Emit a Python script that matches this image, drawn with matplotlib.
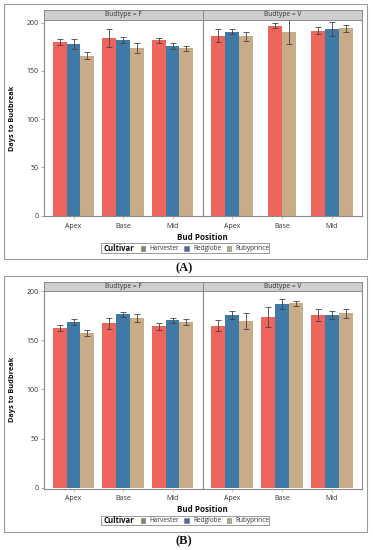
import numpy as np
import matplotlib
matplotlib.use("Agg")
import matplotlib.pyplot as plt
from matplotlib.patches import Rectangle

# ---------------- data ----------------
positions = ["Apex", "Base", "Mid"]
cultivars = ["Harvester", "Redglobe", "Rubyprince"]
budtypes = ["F", "V"]

# Panel A  (rows = cultivar, cols = bud position)
A_F_mean = [[180, 184, 182], [178, 182, 176], [166, 174, 173.5]]
A_F_err = [[3, 9, 2.6], [5, 3.5, 3], [3.5, 5, 2.6]]
A_V_mean = [[186.5, 197, 191.5], [190.7, np.nan, 193.5], [186, 190, 194.3]]
A_V_err = [[6.5, 2.5, 3.7], [2.6, np.nan, 7.6], [4.7, 12.6, 3.8]]

# Panel B
B_F_mean = [[162.7, 167.2, 164.2], [168.2, 176.3, 170.5], [157.2, 172.5, 168.5]]
B_F_err = [[3.4, 6, 3.3], [3, 2.4, 2.5], [2.8, 4.2, 2.7]]
B_V_mean = [[164.7, 173.6, 175.6], [175.6, 186.7, 175.9], [169.8, 187.6, 177.3]]
B_V_err = [[5.5, 10.5, 6], [4.3, 5.3, 4.3], [7.9, 2.7, 4.2]]

bar_colors = ["#ee655e", "#3f7aa6", "#c8ac88"]
legend_colors = ["#8e7f60", "#55679f", "#b9b07f"]

# ---------------- layout ----------------
W, H = 373, 550
fig = plt.figure(figsize=(W / 100, H / 100), dpi=100)
plt.rcParams["font.family"] = ["Open Sans", "DejaVu Sans"]


def rect(x0, y0, x1, y1):
    return [x0 / W, 1 - y1 / H, (x1 - x0) / W, (y1 - y0) / H]


GRAY = "#8a8a8a"
TXT = "#333333"

panels = [
    dict(label="(A)", outer=(4, 4, 367, 259), strip=(10, 19.5), bottom=216.5,
         ylim=(-0.8, 203.3), xlab_y=237, leg=(101, 243.5, 269, 253), tag_y=268,
         data=[(A_F_mean, A_F_err), (A_V_mean, A_V_err)]),
    dict(label="(B)", outer=(4, 276, 367, 531.5), strip=(282, 290.7), bottom=488.5,
         ylim=(-0.8, 200.5), xlab_y=509, leg=(101, 515.5, 269, 525), tag_y=541,
         data=[(B_F_mean, B_F_err), (B_V_mean, B_V_err)]),
]

facet_x = [(44.3, 202.7), (202.7, 362)]
bw = 0.28

for p in panels:
    ox0, oy0, ox1, oy1 = p["outer"]
    fig.patches.append(Rectangle((ox0 / W, 1 - oy1 / H), (ox1 - ox0) / W, (oy1 - oy0) / H,
                                 transform=fig.transFigure, fill=False,
                                 edgecolor="#9a9a9a", linewidth=0.8))
    s0, s1 = p["strip"]
    for fi, (bt, (means, errs)) in enumerate(zip(budtypes, p["data"])):
        x0, x1 = facet_x[fi]
        ax = fig.add_axes(rect(x0, s1, x1, p["bottom"]))
        for g, pos in enumerate(positions):
            present = [c for c in range(3) if not np.isnan(means[c][g])]
            n = len(present)
            for k, c in enumerate(present):
                xc = g + (k - (n - 1) / 2) * bw
                ax.bar(xc, means[c][g], width=bw, color=bar_colors[c], linewidth=0)
                ax.errorbar(xc, means[c][g], yerr=errs[c][g], fmt="none",
                            ecolor="#4a4040", elinewidth=0.6, capsize=2.2, capthick=0.6)
        ax.set_xlim(-0.59, 2.61)
        ax.set_ylim(*p["ylim"])
        ax.set_xticks(range(3))
        ax.set_xticklabels(positions)
        ax.tick_params(axis="x", length=2.2, width=0.5, color="#7fc8c8", pad=2.5,
                       labelsize=5, labelcolor=TXT)
        if fi == 0:
            ax.set_yticks([0, 50, 100, 150, 200])
            ax.tick_params(axis="y", length=2, width=0.5, color=GRAY, pad=2,
                           labelsize=5, labelcolor=TXT)
        else:
            ax.set_yticks([])
        for sp in ax.spines.values():
            sp.set_color(GRAY)
            sp.set_linewidth(0.8)
        ax.spines["top"].set_visible(False)
        # strip
        sax = fig.add_axes(rect(x0, s0, x1, s1))
        sax.set_facecolor("#cfcfcf")
        sax.set_xticks([])
        sax.set_yticks([])
        for sp in sax.spines.values():
            sp.set_color(GRAY)
            sp.set_linewidth(0.7)
        sax.text(0.5, 0.5, f"Budtype = {bt}", ha="center", va="center",
                 fontsize=4.8, color=TXT, transform=sax.transAxes)

    # y label
    yc = (s1 + p["bottom"]) / 2
    fig.text(13 / W, 1 - yc / H, "Days to Budbreak", rotation=90, ha="center",
             va="center", fontsize=5.3, fontweight="bold", color="#111111")
    # x label
    fig.text(202.5 / W, 1 - p["xlab_y"] / H, "Bud Position", ha="center", va="center",
             fontsize=5.8, fontweight="bold", color="#111111")
    # legend
    lx0, ly0, lx1, ly1 = p["leg"]
    fig.patches.append(Rectangle((lx0 / W, 1 - ly1 / H), (lx1 - lx0) / W, (ly1 - ly0) / H,
                                 transform=fig.transFigure, fill=False,
                                 edgecolor="#9a9a9a", linewidth=0.7))
    lyc = (ly0 + ly1) / 2
    fig.text(103.5 / W, 1 - lyc / H, "Cultivar", ha="left", va="center",
             fontsize=5.6, fontweight="bold", color="#111111")
    sw_x = [140.5, 184, 226.7]
    for c, name in enumerate(cultivars):
        fig.patches.append(Rectangle((sw_x[c] / W, 1 - (lyc + 2.3) / H), 4.6 / W, 4.6 / H,
                                     transform=fig.transFigure, facecolor=legend_colors[c],
                                     edgecolor="#777777", linewidth=0.4))
        fig.text((sw_x[c] + 9) / W, 1 - lyc / H, name, ha="left", va="center",
                 fontsize=4.7, color=TXT)
    # panel tag
    fig.text(184 / W, 1 - p["tag_y"] / H, p["label"], ha="center", va="center",
             fontsize=9, family="Liberation Serif", fontweight="bold", color="#111111")

fig.savefig("out.png", dpi=100)
